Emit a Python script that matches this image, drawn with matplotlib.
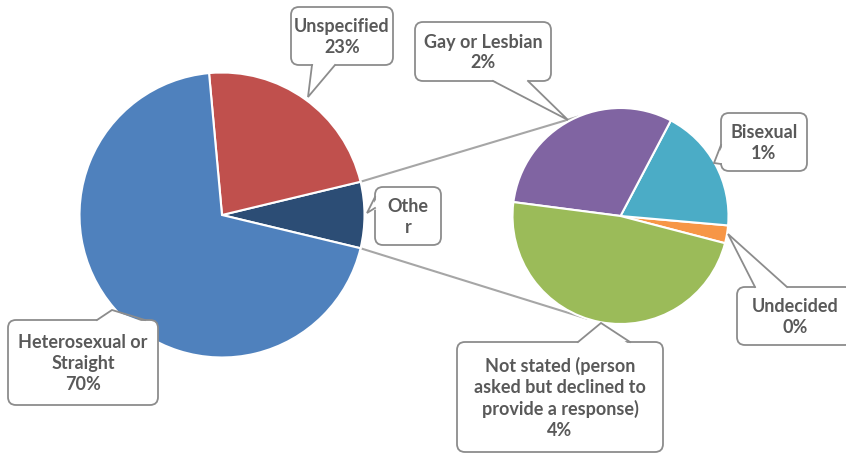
import matplotlib
matplotlib.use('Agg')
import matplotlib.pyplot as plt
from matplotlib.patches import FancyBboxPatch, Polygon
import numpy as np

W, H = 846, 457

# Main pie (counter-clockwise order starting with "Other")
main_labels = ['Other', 'Unspecified', 'Heterosexual or Straight']
main_text = ['Othe\nr', 'Unspecified', 'Heterosexual or\nStraight']
main_values = [7.5, 22.7, 69.8]
main_colors = ['#2C4D75', '#C0504D', '#4F81BD']

# Secondary pie (breakdown of "Other"), counter-clockwise order
sub_labels = ['Undecided', 'Bisexual', 'Gay or Lesbian',
              'Not stated (person asked but declined to provide a response)']
sub_text = ['Undecided', 'Bisexual', 'Gay or Lesbian',
            'Not stated (person\nasked but declined to\nprovide a response)']
sub_values = [0.2, 1.4, 2.3, 3.6]
sub_colors = ['#F79646', '#4BACC6', '#8064A2', '#9BBB59']

plt.rcParams['font.family'] = ['Lato', 'DejaVu Sans']

fig = plt.figure(figsize=(8.46, 4.57), dpi=100)
ax = fig.add_axes([0, 0, 1, 1])


def P(x, y):
    return (x, H - y)


main_c = np.array(P(222, 215))
main_r = 142.5
sub_c = np.array(P(620.5, 216))
sub_r = 108

total = sum(main_values)
half_other = main_values[0] / total * 180.0

ax.pie(main_values, colors=main_colors, center=tuple(main_c), radius=main_r,
       startangle=-half_other, counterclock=True, frame=True,
       wedgeprops=dict(edgecolor='white', linewidth=1.5, zorder=3))
ax.pie(sub_values, colors=sub_colors, center=tuple(sub_c), radius=sub_r,
       startangle=-14.6, counterclock=True, frame=True,
       wedgeprops=dict(edgecolor='white', linewidth=1.5, zorder=3))


def on_circle(c, r, ang):
    a = np.deg2rad(ang)
    return c + r * np.array([np.cos(a), np.sin(a)])


for a_main, a_sub in [(half_other, 113.0), (-half_other, -107.8)]:
    p1 = on_circle(main_c, main_r, a_main)
    p2 = on_circle(sub_c, sub_r, a_sub)
    ax.plot([p1[0], p2[0]], [p1[1], p2[1]], color='#A6A6A6', lw=1.5, zorder=2,
            solid_capstyle='butt')


def callout(box, base, tip, text):
    x0, y0, x1, y1 = box
    bx, by = P(x0, y1)
    ax.add_patch(FancyBboxPatch((bx, by), x1 - x0, y1 - y0,
                                boxstyle='round,pad=0,rounding_size=8',
                                fc='white', ec='#8C8C8C', lw=1.3, zorder=5))
    cx, cy = (x0 + x1) / 2, (y0 + y1) / 2
    b = [np.array(P(*pt), dtype=float) for pt in base]
    t = np.array(P(*tip), dtype=float)
    cen = np.array(P(cx, cy))
    mid = (b[0] + b[1]) / 2
    d = cen - mid
    d = d / np.linalg.norm(d)
    poly = [b[0] + 2.5 * d, t, b[1] + 2.5 * d]
    ax.add_patch(Polygon(poly, closed=True, fc='white', ec='none', zorder=6))
    ax.plot([b[0][0], t[0], b[1][0]], [b[0][1], t[1], b[1][1]],
            color='#8C8C8C', lw=1.3, zorder=6, solid_joinstyle='miter')
    ax.text(*P(cx, cy + 1), text, ha='center', va='center', fontsize=13,
            fontweight='bold', color='#595959', linespacing=1.27,
            multialignment='center', zorder=7)


pct = lambda v: f"{round(v / total * 100):.0f}%"

callout((8, 320, 158, 405), [(97, 320), (145, 320)], (112, 310),
        f"{main_text[2]}\n{pct(main_values[2])}")
callout((291, 7, 393, 65), [(312, 65), (335, 65)], (308, 97),
        f"{main_text[1]}\n{pct(main_values[1])}")
callout((375, 187, 441, 245), [(375, 197), (375, 208)], (367, 213),
        main_text[0])
callout((415, 22, 551, 81), [(493, 81), (528, 81)], (568, 120),
        f"{sub_text[2]}\n{pct(sub_values[2])}")
callout((721, 113, 807, 171), [(721, 145), (721, 164)], (714, 163),
        f"{sub_text[1]}\n{pct(sub_values[1])}")
callout((737, 287, 853, 345), [(755, 287), (787, 287)], (728, 234),
        f"{sub_text[0]}\n{pct(sub_values[0])}")
callout((457, 342, 663, 452), [(578, 342), (630, 342)], (601, 323),
        f"{sub_text[3]}\n{pct(sub_values[3])}")

ax.set_xlim(0, W)
ax.set_ylim(0, H)
ax.set_aspect('equal')
ax.axis('off')

fig.savefig('out.png', dpi=100)
